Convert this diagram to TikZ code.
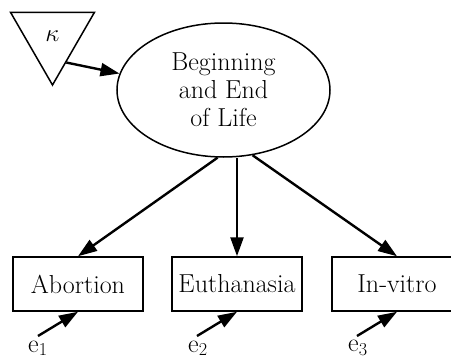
\documentclass[tikz,border=0pt]{standalone}
\usetikzlibrary{shapes.geometric,arrows.meta}
\begin{document}
\begin{tikzpicture}[x=1pt,y=-1pt,
  txt/.style={font=\fontsize{26}{28}\selectfont},
  latent/.style={draw,ellipse,line width=1.5pt,minimum width=213pt,minimum height=134pt,inner sep=0pt,align=center,txt},
  obs/.style={draw,rectangle,line width=1.5pt,minimum width=130pt,minimum height=54pt,inner sep=0pt,txt},
  consttri/.style={draw,regular polygon,regular polygon sides=3,shape border rotate=180,line width=1.5pt,minimum size=97pt,inner sep=0pt,txt},
  arr/.style={line width=2.4pt,-{Triangle[length=19pt,width=13pt]}},
  errlab/.style={txt,inner sep=0pt}]
\useasboundingbox (0,0) rectangle (451,359);
\node[consttri] (k) at (52.5,36.5) {$\kappa$};
\node[latent] (life) at (223.5,90) {Beginning\\and End\\of Life};
\node[obs] (abo) at (78,284) {Abortion};
\node[obs] (eut) at (237,284) {Euthanasia};
\node[obs] (inv) at (397,284) {In-vitro};
\draw[arr] (k.-62) -- (life.171);
\draw[arr] (life.-95) -- (abo.north);
\draw[arr] (eut.north |- life.south) -- (eut.north);
\draw[arr] (life.-66) -- (inv.north);
\node[errlab,anchor=south west] (e1) at (28,356) {e\textsubscript{1}};
\node[errlab,anchor=south west] (e2) at (188,356) {e\textsubscript{2}};
\node[errlab,anchor=south west] (e3) at (348,356) {e\textsubscript{3}};
\coordinate (t1) at (38,336);
\coordinate (t2) at (197,336);
\coordinate (t3) at (357,336);
\draw[arr] (t1) -- (abo.south);
\draw[arr] (t2) -- (eut.south);
\draw[arr] (t3) -- (inv.south);
\end{tikzpicture}
\end{document}
